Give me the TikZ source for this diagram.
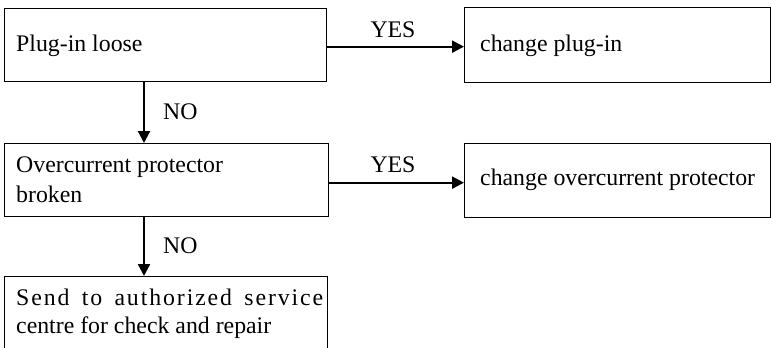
\documentclass[tikz,border=0pt]{standalone}
\usepackage{fontspec}
\setmainfont{Liberation Serif}
\usetikzlibrary{arrows.meta}
\begin{document}
\begin{tikzpicture}[x=1pt,y=-1pt,
  box/.style={draw,line width=1.3pt,rectangle,inner sep=0pt,anchor=north west},
  txt/.style={inner sep=0pt,anchor=base west,font=\fontsize{23.8}{28}\selectfont},
  lbl/.style={inner sep=0pt,anchor=base,font=\fontsize{23.8}{28}\selectfont},
  arr/.style={line width=2.3pt,-{Triangle[length=12pt,width=12pt]}}]
\useasboundingbox (0,0) rectangle (772,348);
\clip (0,0) rectangle (772,348);
% boxes
\node[box,minimum width=322pt,minimum height=73pt] (b1) at (4,8) {};
\node[box,minimum width=306pt,minimum height=75pt] (b2) at (464,7) {};
\node[box,minimum width=324pt,minimum height=73pt] (b3) at (4,143) {};
\node[box,minimum width=306pt,minimum height=74pt] (b4) at (464,143) {};
\node[box,minimum width=323pt,minimum height=90pt] (b5) at (4,276) {};
% texts
\node[txt] (t1) at (16,52) {Plug-in loose};
\node[txt] (t2) at (480,51) {change plug-in};
\node[txt] (t3a) at (16,172) {Overcurrent protector};
\node[txt] (t3b) at (16,202) {broken};
\node[txt] (t4) at (480,185) {change overcurrent protector};
\node[txt] (t5a) at (16,305) {\makebox[307pt][s]{\addfontfeature{LetterSpace=8}Send to authorized service}};
\node[txt] (t5b) at (16,333) {centre for check and repair};
% connectors
\coordinate (v) at (144,0);
\draw[arr] ([yshift=-1.5pt]b1.east) -- ([yshift=-1.5pt]b2.west);
\draw[arr] ([yshift=-2.5pt]b3.east) -- ([yshift=-2.5pt]b3.east -| b4.west);
\draw[arr] (b1.south -| v) -- (b3.north -| v);
\draw[arr] (b3.south -| v) -- (b5.north -| v);
% labels
\node[lbl] (y1) at (393,37) {YES};
\node[lbl] (y2) at (393,172) {YES};
\node[txt] (n1) at (163,119) {NO};
\node[txt] (n2) at (163,253) {NO};
\end{tikzpicture}
\end{document}
